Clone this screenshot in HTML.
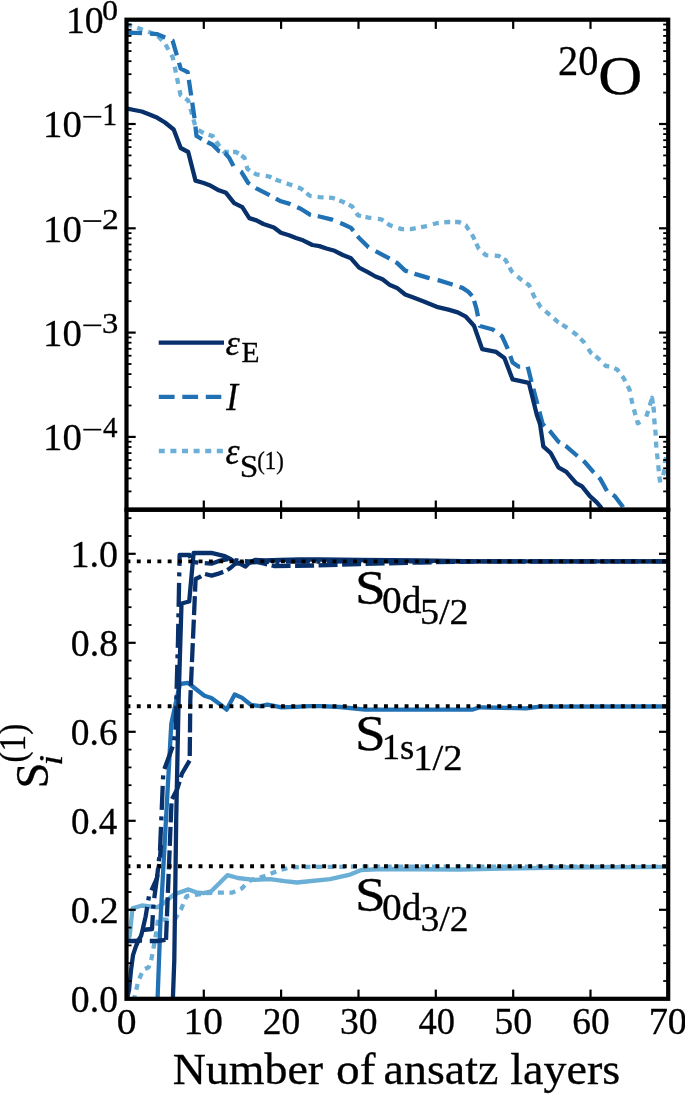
<!DOCTYPE html><html><head><meta charset="utf-8"><style>html,body{margin:0;padding:0;background:#fff;}svg{display:block;filter:blur(0.35px);}text{font-family:"Liberation Serif",serif;fill:#000;stroke:#000;stroke-width:0.3px;}</style></head><body>
<svg width="685" height="1096" viewBox="0 0 685 1096">
<rect width="685" height="1096" fill="#fff"/>
<defs><clipPath id="ct"><rect x="126.5" y="19.7" width="541.7" height="490.0"/></clipPath><clipPath id="cb"><rect x="126.5" y="509.7" width="541.7" height="489.09999999999997"/></clipPath></defs>
<g clip-path="url(#ct)">
<polyline points="126.3,24.3 134.0,26.5 141.8,29.5 149.5,32.3 157.3,35.5 165.0,43.5 172.8,57.5 180.5,95.0 188.2,100.5 196.0,128.5 203.7,133.2 212.7,136.1 218.8,145.3 224.0,152.0 236.2,152.0 244.4,157.6 247.4,168.8 250.0,170.9 256.4,174.4 269.2,176.5 277.4,180.3 289.0,184.2 300.7,188.4 310.0,195.9 319.4,197.1 332.3,197.8 342.8,201.8 352.1,206.4 358.0,215.3 368.5,217.6 381.3,219.3 389.5,225.1 401.7,229.1 411.0,229.1 423.9,226.7 436.7,223.2 448.4,222.0 458.9,222.0 465.9,225.5 472.9,236.1 478.8,248.9 485.8,255.2 498.6,255.9 505.6,260.1 511.5,271.1 520.8,279.3 529.0,285.1 533.7,295.6 540.7,307.3 548.8,314.0 558.1,322.2 567.5,328.0 576.8,335.0 583.8,342.0 590.8,352.6 597.9,358.1 605.8,366.0 610.3,366.5 617.1,369.4 623.9,378.5 629.5,389.5 631.9,401.3 634.8,412.6 637.8,423.3 645.5,419.1 649.1,407.9 652.0,397.8 653.8,409.7 654.4,421.5 655.6,433.4 656.2,445.2 657.4,457.1 658.5,467.8 659.7,479.6 660.9,484.4 663.9,472.5 665.1,460.7 668.3,450.0" fill="none" stroke="#6baed6" stroke-width="4.3" stroke-linejoin="round" stroke-linecap="butt" stroke-dasharray="6.00 5.48 6.00 5.60 6.00 4.75 6.00 5.33 6.00 5.76 6.00 6.63 6.00 5.46 6.00 6.51 6.00 4.98 6.00 5.90 6.00 5.05 6.00 6.37 6.00 5.25 6.00 4.73 6.00 5.98 6.00 4.23 6.00 3.42 6.00 6.19 6.00 4.86 6.00 6.22 6.00 4.61 6.00 5.71 6.00 5.96 6.00 4.54 6.00 6.05 6.00 5.44 6.00 4.75 6.00 4.49 6.00 5.52 6.00 4.47 6.00 6.57 6.00 4.75 6.00 6.02 6.00 5.66 6.00 5.47 6.00 6.21 6.00 5.50 6.00 4.88 6.00 5.04 6.00 5.15 6.00 4.42 6.00 5.75 6.00 6.39 6.00 3.93 6.00 4.55 6.00 6.01 6.00 5.12 6.00 5.72 6.00 5.01 6.00 5.88 6.00 5.36 6.00 4.33 6.00 6.53 6.00 4.60 6.00 6.75 6.00 4.52 6.00 5.70 6.00 5.40 6.00 5.37 6.00 5.47 6.00 6.38 6.00 5.82 6.00 5.27 6.00 8.60 6.00 5.58 6.00 2.07 6.00 2.88 6.00 5.85 6.00 5.32 6.00 5.99 6.00 5.78 6.00 5.90 6.00 5.43 6.00 11.36 6.00 6.37 6.00 5.60 6.00 5.60 6.00 5.60"/>
<polyline points="126.3,32.5 134.0,32.8 143.4,33.2 157.4,34.2 164.4,37.2 172.6,40.7 180.7,68.7 187.7,72.2 194.5,118.0 196.5,136.0 207.6,142.3 212.7,144.8 218.8,151.0 225.0,153.0 229.0,157.6 234.2,167.3 241.3,171.9 248.2,183.0 256.4,188.4 268.0,194.3 280.9,201.3 289.0,203.6 300.7,208.8 310.0,214.6 319.4,216.5 331.1,219.3 342.8,224.0 351.0,227.9 359.1,238.0 368.5,247.3 380.2,253.6 388.3,257.8 397.0,262.9 405.2,270.6 415.7,274.1 427.4,277.6 439.0,280.4 450.7,284.0 462.4,287.9 468.3,291.7 472.9,296.8 476.4,308.5 479.9,326.0 492.8,329.5 502.0,336.2 507.9,349.1 512.6,362.6 518.4,366.6 527.7,366.6 531.2,380.6 537.1,402.8 542.6,423.9 550.5,431.8 558.4,441.7 566.3,446.3 576.8,455.5 584.7,462.0 592.6,471.2 600.4,479.1 607.0,491.0 614.9,496.2 622.8,506.7 625.0,512.0" fill="none" stroke="#2171b5" stroke-width="4.3" stroke-linejoin="round" stroke-linecap="butt" stroke-dasharray="15.80 8.04 15.80 7.57 15.80 7.62 15.80 5.99 15.80 7.18 15.80 8.31 15.80 6.24 15.80 5.10 15.80 9.23 15.80 7.04 15.80 7.01 15.80 7.35 15.80 6.86 15.80 7.72 15.80 6.55 15.80 7.98 15.80 6.94 15.80 6.94 15.80 8.16 15.80 7.12 15.80 5.53 15.80 9.52 15.80 7.46 15.80 7.60 15.80 7.66 15.80 6.87 15.80 7.88 15.80 6.60 15.80 6.54 15.80 7.52 15.80 7.00 15.80 7.14 15.80 7.70 15.80 7.70"/>
<polyline points="126.3,108.4 134.0,110.0 141.8,111.5 149.5,114.5 157.4,117.8 165.0,122.5 173.7,129.5 180.7,148.0 188.2,152.0 195.5,180.6 203.7,183.0 209.6,185.2 218.8,190.3 226.0,192.8 234.2,203.1 242.3,207.2 249.3,218.1 256.4,220.4 263.4,224.0 273.9,227.5 280.9,232.8 289.0,235.2 296.0,238.0 303.0,240.3 312.4,245.0 319.4,246.1 326.4,248.5 334.6,250.8 342.8,255.0 351.0,258.3 359.1,267.6 367.3,271.8 375.5,276.5 382.5,279.3 390.0,285.1 397.0,287.9 405.2,294.5 413.4,297.5 425.0,301.9 436.7,306.8 448.4,309.6 457.7,312.4 465.9,316.7 474.0,325.7 482.2,349.1 496.2,351.9 504.4,357.9 512.6,379.4 528.9,382.9 536.8,414.7 540.0,424.0 543.3,446.3 550.5,452.8 558.4,467.3 566.3,471.9 576.1,483.1 582.0,486.4 589.9,496.2 596.5,502.1 600.4,506.7 603.5,512.0" fill="none" stroke="#08306b" stroke-width="4.3" stroke-linejoin="round" stroke-linecap="square"/>
</g>
<g clip-path="url(#cb)">
<polyline points="133.5,1001.0 138.2,981.5 143.0,970.0 148.7,967.2 151.5,958.7 154.4,943.5 156.3,932.1 158.2,918.8 167.7,919.8 175.2,918.8 181.0,909.3 186.6,896.1 194.2,895.1 205.6,893.2 218.9,892.6 232.2,892.6 241.7,888.5 249.3,880.9 254.0,879.0 264.1,876.3 278.7,870.4 290.4,867.5 305.0,867.0 355.0,866.7 668.3,866.8" fill="none" stroke="#6baed6" stroke-width="4.3" stroke-linejoin="round" stroke-linecap="butt" stroke-dasharray="6.0 5.6"/>
<polyline points="126.3,942.0 129.7,935.9 132.5,908.4 142.0,905.5 157.2,907.4 162.0,904.6 174.3,894.2 188.5,889.4 196.1,892.3 203.7,893.2 211.3,891.3 227.4,875.2 237.9,878.0 254.0,879.9 270.0,879.2 284.6,881.2 297.0,882.5 330.0,879.2 349.0,874.9 360.7,870.2 381.8,869.0 460.0,869.5 560.0,867.5 668.3,866.8" fill="none" stroke="#6baed6" stroke-width="4.3" stroke-linejoin="round" stroke-linecap="square"/>
<polyline points="157.5,1001.0 160.5,920.0 165.4,830.0 171.3,723.7 179.9,684.0 188.0,682.8 193.9,687.5 204.4,695.7 211.4,698.0 219.6,703.9 226.6,709.7 234.7,694.5 241.8,697.6 251.1,705.0 260.4,706.2 267.5,704.6 281.5,707.4 295.5,706.9 309.5,706.2 320.0,706.2 340.0,707.0 365.0,709.7 472.0,709.7 480.0,707.3 526.0,708.3 540.0,706.6 668.3,706.5" fill="none" stroke="#2171b5" stroke-width="4.3" stroke-linejoin="round" stroke-linecap="square"/>
<polyline points="142.0,930.0 152.0,929.0 153.6,903.0 157.5,874.0 159.8,860.0 161.0,845.0" fill="none" stroke="#08306b" stroke-width="4.3" stroke-linejoin="round" stroke-linecap="butt" stroke-dasharray="24 6.5 4 6.5"/>
<polyline points="142.5,930.3 145.6,916.6 149.0,896.0 157.0,878.0 160.0,850.0 163.3,772.0 173.6,744.0 175.5,729.6 178.0,640.0 179.6,555.0 189.5,555.0 192.0,562.0 200.0,562.8 211.4,563.7 219.0,560.9 228.5,559.0 240.0,561.0 260.0,562.0 300.0,561.5 480.0,561.4 668.3,561.4" fill="none" stroke="#08306b" stroke-width="4.3" stroke-linejoin="round" stroke-linecap="butt" stroke-dasharray="24 6.5 4 6.5"/>
<polyline points="126.3,941.0 134.0,941.0 141.8,940.5 149.5,941.0 157.3,941.0 166.0,939.8" fill="none" stroke="#08306b" stroke-width="4.3" stroke-linejoin="round" stroke-linecap="butt" stroke-dasharray="15.8 7.7"/>
<polyline points="166.0,939.8 168.4,880.0 171.6,800.0 177.3,789.0 182.0,773.5 189.7,760.4 190.3,700.0 195.6,579.0 200.0,576.8 204.7,573.9 211.7,575.6 217.6,573.9 225.7,571.0 230.4,568.0 235.0,564.0 239.7,562.8 245.0,562.8 257.0,562.0 274.0,566.0 313.9,565.5 360.0,564.0 420.0,562.5 480.0,561.4 668.3,561.4" fill="none" stroke="#08306b" stroke-width="4.3" stroke-linejoin="round" stroke-linecap="butt" stroke-dasharray="19 4.5"/>
<polyline points="172.8,1001.0 174.3,960.0 176.2,820.0 178.6,700.0 181.5,603.5 189.2,601.5 193.6,553.0 211.4,552.9 224.7,556.1 230.4,559.0 234.2,561.8 239.9,563.7 245.5,566.6 249.3,562.8 255.0,560.0 265.0,560.5 280.0,560.0 300.0,559.5 320.0,559.5 360.0,560.0 420.0,560.5 480.0,561.4 668.3,561.4" fill="none" stroke="#08306b" stroke-width="4.3" stroke-linejoin="round" stroke-linecap="square"/>
<polyline points="126.0,1003.0 129.0,990.3 131.0,970.2 133.0,955.2 136.0,946.1 139.0,939.1 141.0,936.1 142.5,930.3" fill="none" stroke="#08306b" stroke-width="4.3" stroke-linejoin="round" stroke-linecap="butt"/>
<line x1="126.5" y1="561.4" x2="668.2" y2="561.4" stroke="#000" stroke-width="3.9" stroke-dasharray="3.9 6.4"/>
<line x1="126.5" y1="706.2" x2="668.2" y2="706.2" stroke="#000" stroke-width="3.9" stroke-dasharray="3.9 6.4"/>
<line x1="126.5" y1="866.3" x2="668.2" y2="866.3" stroke="#000" stroke-width="3.9" stroke-dasharray="3.9 6.4"/>
</g>
<line x1="203.8" y1="19.7" x2="203.8" y2="28.9" stroke="#000" stroke-width="2.2"/><line x1="203.8" y1="509.7" x2="203.8" y2="500.5" stroke="#000" stroke-width="2.2"/><line x1="203.8" y1="509.7" x2="203.8" y2="518.9" stroke="#000" stroke-width="2.2"/><line x1="203.8" y1="998.8" x2="203.8" y2="989.5999999999999" stroke="#000" stroke-width="2.2"/><line x1="281.1" y1="19.7" x2="281.1" y2="28.9" stroke="#000" stroke-width="2.2"/><line x1="281.1" y1="509.7" x2="281.1" y2="500.5" stroke="#000" stroke-width="2.2"/><line x1="281.1" y1="509.7" x2="281.1" y2="518.9" stroke="#000" stroke-width="2.2"/><line x1="281.1" y1="998.8" x2="281.1" y2="989.5999999999999" stroke="#000" stroke-width="2.2"/><line x1="358.5" y1="19.7" x2="358.5" y2="28.9" stroke="#000" stroke-width="2.2"/><line x1="358.5" y1="509.7" x2="358.5" y2="500.5" stroke="#000" stroke-width="2.2"/><line x1="358.5" y1="509.7" x2="358.5" y2="518.9" stroke="#000" stroke-width="2.2"/><line x1="358.5" y1="998.8" x2="358.5" y2="989.5999999999999" stroke="#000" stroke-width="2.2"/><line x1="435.8" y1="19.7" x2="435.8" y2="28.9" stroke="#000" stroke-width="2.2"/><line x1="435.8" y1="509.7" x2="435.8" y2="500.5" stroke="#000" stroke-width="2.2"/><line x1="435.8" y1="509.7" x2="435.8" y2="518.9" stroke="#000" stroke-width="2.2"/><line x1="435.8" y1="998.8" x2="435.8" y2="989.5999999999999" stroke="#000" stroke-width="2.2"/><line x1="513.2" y1="19.7" x2="513.2" y2="28.9" stroke="#000" stroke-width="2.2"/><line x1="513.2" y1="509.7" x2="513.2" y2="500.5" stroke="#000" stroke-width="2.2"/><line x1="513.2" y1="509.7" x2="513.2" y2="518.9" stroke="#000" stroke-width="2.2"/><line x1="513.2" y1="998.8" x2="513.2" y2="989.5999999999999" stroke="#000" stroke-width="2.2"/><line x1="590.5" y1="19.7" x2="590.5" y2="28.9" stroke="#000" stroke-width="2.2"/><line x1="590.5" y1="509.7" x2="590.5" y2="500.5" stroke="#000" stroke-width="2.2"/><line x1="590.5" y1="509.7" x2="590.5" y2="518.9" stroke="#000" stroke-width="2.2"/><line x1="590.5" y1="998.8" x2="590.5" y2="989.5999999999999" stroke="#000" stroke-width="2.2"/><line x1="126.5" y1="19.7" x2="135.7" y2="19.7" stroke="#000" stroke-width="2.2"/><line x1="668.2" y1="19.7" x2="659.0" y2="19.7" stroke="#000" stroke-width="2.2"/><line x1="126.5" y1="124.0" x2="135.7" y2="124.0" stroke="#000" stroke-width="2.2"/><line x1="668.2" y1="124.0" x2="659.0" y2="124.0" stroke="#000" stroke-width="2.2"/><line x1="126.5" y1="228.3" x2="135.7" y2="228.3" stroke="#000" stroke-width="2.2"/><line x1="668.2" y1="228.3" x2="659.0" y2="228.3" stroke="#000" stroke-width="2.2"/><line x1="126.5" y1="332.6" x2="135.7" y2="332.6" stroke="#000" stroke-width="2.2"/><line x1="668.2" y1="332.6" x2="659.0" y2="332.6" stroke="#000" stroke-width="2.2"/><line x1="126.5" y1="436.9" x2="135.7" y2="436.9" stroke="#000" stroke-width="2.2"/><line x1="668.2" y1="436.9" x2="659.0" y2="436.9" stroke="#000" stroke-width="2.2"/><line x1="126.5" y1="92.6" x2="131.5" y2="92.6" stroke="#000" stroke-width="1.8"/><line x1="668.2" y1="92.6" x2="663.2" y2="92.6" stroke="#000" stroke-width="1.8"/><line x1="126.5" y1="74.2" x2="131.5" y2="74.2" stroke="#000" stroke-width="1.8"/><line x1="668.2" y1="74.2" x2="663.2" y2="74.2" stroke="#000" stroke-width="1.8"/><line x1="126.5" y1="61.2" x2="131.5" y2="61.2" stroke="#000" stroke-width="1.8"/><line x1="668.2" y1="61.2" x2="663.2" y2="61.2" stroke="#000" stroke-width="1.8"/><line x1="126.5" y1="51.1" x2="131.5" y2="51.1" stroke="#000" stroke-width="1.8"/><line x1="668.2" y1="51.1" x2="663.2" y2="51.1" stroke="#000" stroke-width="1.8"/><line x1="126.5" y1="42.8" x2="131.5" y2="42.8" stroke="#000" stroke-width="1.8"/><line x1="668.2" y1="42.8" x2="663.2" y2="42.8" stroke="#000" stroke-width="1.8"/><line x1="126.5" y1="35.9" x2="131.5" y2="35.9" stroke="#000" stroke-width="1.8"/><line x1="668.2" y1="35.9" x2="663.2" y2="35.9" stroke="#000" stroke-width="1.8"/><line x1="126.5" y1="29.8" x2="131.5" y2="29.8" stroke="#000" stroke-width="1.8"/><line x1="668.2" y1="29.8" x2="663.2" y2="29.8" stroke="#000" stroke-width="1.8"/><line x1="126.5" y1="24.5" x2="131.5" y2="24.5" stroke="#000" stroke-width="1.8"/><line x1="668.2" y1="24.5" x2="663.2" y2="24.5" stroke="#000" stroke-width="1.8"/><line x1="126.5" y1="196.9" x2="131.5" y2="196.9" stroke="#000" stroke-width="1.8"/><line x1="668.2" y1="196.9" x2="663.2" y2="196.9" stroke="#000" stroke-width="1.8"/><line x1="126.5" y1="178.5" x2="131.5" y2="178.5" stroke="#000" stroke-width="1.8"/><line x1="668.2" y1="178.5" x2="663.2" y2="178.5" stroke="#000" stroke-width="1.8"/><line x1="126.5" y1="165.5" x2="131.5" y2="165.5" stroke="#000" stroke-width="1.8"/><line x1="668.2" y1="165.5" x2="663.2" y2="165.5" stroke="#000" stroke-width="1.8"/><line x1="126.5" y1="155.4" x2="131.5" y2="155.4" stroke="#000" stroke-width="1.8"/><line x1="668.2" y1="155.4" x2="663.2" y2="155.4" stroke="#000" stroke-width="1.8"/><line x1="126.5" y1="147.1" x2="131.5" y2="147.1" stroke="#000" stroke-width="1.8"/><line x1="668.2" y1="147.1" x2="663.2" y2="147.1" stroke="#000" stroke-width="1.8"/><line x1="126.5" y1="140.2" x2="131.5" y2="140.2" stroke="#000" stroke-width="1.8"/><line x1="668.2" y1="140.2" x2="663.2" y2="140.2" stroke="#000" stroke-width="1.8"/><line x1="126.5" y1="134.1" x2="131.5" y2="134.1" stroke="#000" stroke-width="1.8"/><line x1="668.2" y1="134.1" x2="663.2" y2="134.1" stroke="#000" stroke-width="1.8"/><line x1="126.5" y1="128.8" x2="131.5" y2="128.8" stroke="#000" stroke-width="1.8"/><line x1="668.2" y1="128.8" x2="663.2" y2="128.8" stroke="#000" stroke-width="1.8"/><line x1="126.5" y1="301.2" x2="131.5" y2="301.2" stroke="#000" stroke-width="1.8"/><line x1="668.2" y1="301.2" x2="663.2" y2="301.2" stroke="#000" stroke-width="1.8"/><line x1="126.5" y1="282.8" x2="131.5" y2="282.8" stroke="#000" stroke-width="1.8"/><line x1="668.2" y1="282.8" x2="663.2" y2="282.8" stroke="#000" stroke-width="1.8"/><line x1="126.5" y1="269.8" x2="131.5" y2="269.8" stroke="#000" stroke-width="1.8"/><line x1="668.2" y1="269.8" x2="663.2" y2="269.8" stroke="#000" stroke-width="1.8"/><line x1="126.5" y1="259.7" x2="131.5" y2="259.7" stroke="#000" stroke-width="1.8"/><line x1="668.2" y1="259.7" x2="663.2" y2="259.7" stroke="#000" stroke-width="1.8"/><line x1="126.5" y1="251.4" x2="131.5" y2="251.4" stroke="#000" stroke-width="1.8"/><line x1="668.2" y1="251.4" x2="663.2" y2="251.4" stroke="#000" stroke-width="1.8"/><line x1="126.5" y1="244.5" x2="131.5" y2="244.5" stroke="#000" stroke-width="1.8"/><line x1="668.2" y1="244.5" x2="663.2" y2="244.5" stroke="#000" stroke-width="1.8"/><line x1="126.5" y1="238.4" x2="131.5" y2="238.4" stroke="#000" stroke-width="1.8"/><line x1="668.2" y1="238.4" x2="663.2" y2="238.4" stroke="#000" stroke-width="1.8"/><line x1="126.5" y1="233.1" x2="131.5" y2="233.1" stroke="#000" stroke-width="1.8"/><line x1="668.2" y1="233.1" x2="663.2" y2="233.1" stroke="#000" stroke-width="1.8"/><line x1="126.5" y1="405.5" x2="131.5" y2="405.5" stroke="#000" stroke-width="1.8"/><line x1="668.2" y1="405.5" x2="663.2" y2="405.5" stroke="#000" stroke-width="1.8"/><line x1="126.5" y1="387.1" x2="131.5" y2="387.1" stroke="#000" stroke-width="1.8"/><line x1="668.2" y1="387.1" x2="663.2" y2="387.1" stroke="#000" stroke-width="1.8"/><line x1="126.5" y1="374.1" x2="131.5" y2="374.1" stroke="#000" stroke-width="1.8"/><line x1="668.2" y1="374.1" x2="663.2" y2="374.1" stroke="#000" stroke-width="1.8"/><line x1="126.5" y1="364.0" x2="131.5" y2="364.0" stroke="#000" stroke-width="1.8"/><line x1="668.2" y1="364.0" x2="663.2" y2="364.0" stroke="#000" stroke-width="1.8"/><line x1="126.5" y1="355.7" x2="131.5" y2="355.7" stroke="#000" stroke-width="1.8"/><line x1="668.2" y1="355.7" x2="663.2" y2="355.7" stroke="#000" stroke-width="1.8"/><line x1="126.5" y1="348.8" x2="131.5" y2="348.8" stroke="#000" stroke-width="1.8"/><line x1="668.2" y1="348.8" x2="663.2" y2="348.8" stroke="#000" stroke-width="1.8"/><line x1="126.5" y1="342.7" x2="131.5" y2="342.7" stroke="#000" stroke-width="1.8"/><line x1="668.2" y1="342.7" x2="663.2" y2="342.7" stroke="#000" stroke-width="1.8"/><line x1="126.5" y1="337.4" x2="131.5" y2="337.4" stroke="#000" stroke-width="1.8"/><line x1="668.2" y1="337.4" x2="663.2" y2="337.4" stroke="#000" stroke-width="1.8"/><line x1="126.5" y1="491.4" x2="131.5" y2="491.4" stroke="#000" stroke-width="1.8"/><line x1="668.2" y1="491.4" x2="663.2" y2="491.4" stroke="#000" stroke-width="1.8"/><line x1="126.5" y1="478.4" x2="131.5" y2="478.4" stroke="#000" stroke-width="1.8"/><line x1="668.2" y1="478.4" x2="663.2" y2="478.4" stroke="#000" stroke-width="1.8"/><line x1="126.5" y1="468.3" x2="131.5" y2="468.3" stroke="#000" stroke-width="1.8"/><line x1="668.2" y1="468.3" x2="663.2" y2="468.3" stroke="#000" stroke-width="1.8"/><line x1="126.5" y1="460.0" x2="131.5" y2="460.0" stroke="#000" stroke-width="1.8"/><line x1="668.2" y1="460.0" x2="663.2" y2="460.0" stroke="#000" stroke-width="1.8"/><line x1="126.5" y1="453.1" x2="131.5" y2="453.1" stroke="#000" stroke-width="1.8"/><line x1="668.2" y1="453.1" x2="663.2" y2="453.1" stroke="#000" stroke-width="1.8"/><line x1="126.5" y1="447.0" x2="131.5" y2="447.0" stroke="#000" stroke-width="1.8"/><line x1="668.2" y1="447.0" x2="663.2" y2="447.0" stroke="#000" stroke-width="1.8"/><line x1="126.5" y1="441.7" x2="131.5" y2="441.7" stroke="#000" stroke-width="1.8"/><line x1="668.2" y1="441.7" x2="663.2" y2="441.7" stroke="#000" stroke-width="1.8"/><line x1="126.5" y1="981.0" x2="131.5" y2="981.0" stroke="#000" stroke-width="1.8"/><line x1="668.2" y1="981.0" x2="663.2" y2="981.0" stroke="#000" stroke-width="1.8"/><line x1="126.5" y1="963.2" x2="131.5" y2="963.2" stroke="#000" stroke-width="1.8"/><line x1="668.2" y1="963.2" x2="663.2" y2="963.2" stroke="#000" stroke-width="1.8"/><line x1="126.5" y1="945.4" x2="131.5" y2="945.4" stroke="#000" stroke-width="1.8"/><line x1="668.2" y1="945.4" x2="663.2" y2="945.4" stroke="#000" stroke-width="1.8"/><line x1="126.5" y1="927.6" x2="131.5" y2="927.6" stroke="#000" stroke-width="1.8"/><line x1="668.2" y1="927.6" x2="663.2" y2="927.6" stroke="#000" stroke-width="1.8"/><line x1="126.5" y1="909.8" x2="135.7" y2="909.8" stroke="#000" stroke-width="2.2"/><line x1="668.2" y1="909.8" x2="659.0" y2="909.8" stroke="#000" stroke-width="2.2"/><line x1="126.5" y1="892.0" x2="131.5" y2="892.0" stroke="#000" stroke-width="1.8"/><line x1="668.2" y1="892.0" x2="663.2" y2="892.0" stroke="#000" stroke-width="1.8"/><line x1="126.5" y1="874.2" x2="131.5" y2="874.2" stroke="#000" stroke-width="1.8"/><line x1="668.2" y1="874.2" x2="663.2" y2="874.2" stroke="#000" stroke-width="1.8"/><line x1="126.5" y1="856.4" x2="131.5" y2="856.4" stroke="#000" stroke-width="1.8"/><line x1="668.2" y1="856.4" x2="663.2" y2="856.4" stroke="#000" stroke-width="1.8"/><line x1="126.5" y1="838.6" x2="131.5" y2="838.6" stroke="#000" stroke-width="1.8"/><line x1="668.2" y1="838.6" x2="663.2" y2="838.6" stroke="#000" stroke-width="1.8"/><line x1="126.5" y1="820.8" x2="135.7" y2="820.8" stroke="#000" stroke-width="2.2"/><line x1="668.2" y1="820.8" x2="659.0" y2="820.8" stroke="#000" stroke-width="2.2"/><line x1="126.5" y1="803.0" x2="131.5" y2="803.0" stroke="#000" stroke-width="1.8"/><line x1="668.2" y1="803.0" x2="663.2" y2="803.0" stroke="#000" stroke-width="1.8"/><line x1="126.5" y1="785.2" x2="131.5" y2="785.2" stroke="#000" stroke-width="1.8"/><line x1="668.2" y1="785.2" x2="663.2" y2="785.2" stroke="#000" stroke-width="1.8"/><line x1="126.5" y1="767.4" x2="131.5" y2="767.4" stroke="#000" stroke-width="1.8"/><line x1="668.2" y1="767.4" x2="663.2" y2="767.4" stroke="#000" stroke-width="1.8"/><line x1="126.5" y1="749.6" x2="131.5" y2="749.6" stroke="#000" stroke-width="1.8"/><line x1="668.2" y1="749.6" x2="663.2" y2="749.6" stroke="#000" stroke-width="1.8"/><line x1="126.5" y1="731.8" x2="135.7" y2="731.8" stroke="#000" stroke-width="2.2"/><line x1="668.2" y1="731.8" x2="659.0" y2="731.8" stroke="#000" stroke-width="2.2"/><line x1="126.5" y1="714.0" x2="131.5" y2="714.0" stroke="#000" stroke-width="1.8"/><line x1="668.2" y1="714.0" x2="663.2" y2="714.0" stroke="#000" stroke-width="1.8"/><line x1="126.5" y1="696.2" x2="131.5" y2="696.2" stroke="#000" stroke-width="1.8"/><line x1="668.2" y1="696.2" x2="663.2" y2="696.2" stroke="#000" stroke-width="1.8"/><line x1="126.5" y1="678.4" x2="131.5" y2="678.4" stroke="#000" stroke-width="1.8"/><line x1="668.2" y1="678.4" x2="663.2" y2="678.4" stroke="#000" stroke-width="1.8"/><line x1="126.5" y1="660.6" x2="131.5" y2="660.6" stroke="#000" stroke-width="1.8"/><line x1="668.2" y1="660.6" x2="663.2" y2="660.6" stroke="#000" stroke-width="1.8"/><line x1="126.5" y1="642.8" x2="135.7" y2="642.8" stroke="#000" stroke-width="2.2"/><line x1="668.2" y1="642.8" x2="659.0" y2="642.8" stroke="#000" stroke-width="2.2"/><line x1="126.5" y1="625.0" x2="131.5" y2="625.0" stroke="#000" stroke-width="1.8"/><line x1="668.2" y1="625.0" x2="663.2" y2="625.0" stroke="#000" stroke-width="1.8"/><line x1="126.5" y1="607.2" x2="131.5" y2="607.2" stroke="#000" stroke-width="1.8"/><line x1="668.2" y1="607.2" x2="663.2" y2="607.2" stroke="#000" stroke-width="1.8"/><line x1="126.5" y1="589.4" x2="131.5" y2="589.4" stroke="#000" stroke-width="1.8"/><line x1="668.2" y1="589.4" x2="663.2" y2="589.4" stroke="#000" stroke-width="1.8"/><line x1="126.5" y1="571.6" x2="131.5" y2="571.6" stroke="#000" stroke-width="1.8"/><line x1="668.2" y1="571.6" x2="663.2" y2="571.6" stroke="#000" stroke-width="1.8"/><line x1="126.5" y1="553.8" x2="135.7" y2="553.8" stroke="#000" stroke-width="2.2"/><line x1="668.2" y1="553.8" x2="659.0" y2="553.8" stroke="#000" stroke-width="2.2"/><line x1="126.5" y1="536.0" x2="131.5" y2="536.0" stroke="#000" stroke-width="1.8"/><line x1="668.2" y1="536.0" x2="663.2" y2="536.0" stroke="#000" stroke-width="1.8"/><line x1="126.5" y1="518.2" x2="131.5" y2="518.2" stroke="#000" stroke-width="1.8"/><line x1="668.2" y1="518.2" x2="663.2" y2="518.2" stroke="#000" stroke-width="1.8"/>
<rect x="126.5" y="19.7" width="541.7" height="490.0" fill="none" stroke="#000" stroke-width="4.2"/>
<rect x="126.5" y="509.7" width="541.7" height="489.09999999999997" fill="none" stroke="#000" stroke-width="4.2"/>
<text transform="translate(65.98,32.93) scale(0.9837,1.0000)" font-size="38.38">10</text>
<text transform="translate(101.88,19.82) scale(1.1048,1.0000)" font-size="29.05">0</text>
<text transform="translate(42.99,137.23) scale(1.0105,1.0000)" font-size="38.38">10</text>
<rect x="83.3" y="115.90" width="18" height="1.7" fill="#000"/>
<text transform="translate(102.28,124.50) scale(0.9747,1.0000)" font-size="30.60">1</text>
<text transform="translate(42.99,241.53) scale(1.0105,1.0000)" font-size="38.38">10</text>
<rect x="83.3" y="220.20" width="18" height="1.7" fill="#000"/>
<text transform="translate(102.12,228.60) scale(1.1493,1.0000)" font-size="29.30">2</text>
<text transform="translate(42.99,345.83) scale(1.0105,1.0000)" font-size="38.38">10</text>
<rect x="83.3" y="324.50" width="18" height="1.7" fill="#000"/>
<text transform="translate(102.04,332.62) scale(1.1318,1.0000)" font-size="28.87">3</text>
<text transform="translate(42.99,450.13) scale(1.0105,1.0000)" font-size="38.38">10</text>
<rect x="83.3" y="428.80" width="18" height="1.7" fill="#000"/>
<text transform="translate(103.03,437.20) scale(0.9853,1.0000)" font-size="29.47">4</text>
<text transform="translate(70.86,1012.45) scale(0.9709,1.0000)" font-size="38.87">0.0</text>
<text transform="translate(70.84,923.45) scale(0.9853,1.0000)" font-size="38.87">0.2</text>
<text transform="translate(70.89,834.45) scale(0.9527,1.0000)" font-size="38.87">0.4</text>
<text transform="translate(70.87,745.45) scale(0.9641,1.0000)" font-size="38.87">0.6</text>
<text transform="translate(70.86,656.45) scale(0.9709,1.0000)" font-size="38.87">0.8</text>
<text transform="translate(70.45,567.45) scale(0.9796,1.0000)" font-size="38.87">1.0</text>
<text transform="translate(116.69,1034.24) scale(1.0786,1.0000)" font-size="36.75">0</text>
<text transform="translate(183.60,1034.34) scale(1.0624,1.0000)" font-size="37.05">10</text>
<text transform="translate(262.77,1034.34) scale(1.0115,1.0000)" font-size="37.05">20</text>
<text transform="translate(339.97,1034.34) scale(1.0158,1.0000)" font-size="37.05">30</text>
<text transform="translate(418.42,1034.34) scale(0.9853,1.0000)" font-size="37.05">40</text>
<text transform="translate(494.27,1034.34) scale(1.0274,1.0000)" font-size="37.05">50</text>
<text transform="translate(572.23,1034.34) scale(1.0104,1.0000)" font-size="37.05">60</text>
<text transform="translate(648.67,1034.34) scale(1.0363,1.0000)" font-size="37.05">70</text>
<text transform="translate(172.68,1084.40) scale(1.0163,1)" font-size="45.20">Number</text>
<text transform="translate(336.10,1084.40) scale(1.0465,1)" font-size="45.20">of</text>
<text transform="translate(383.58,1084.40) scale(1.0165,1)" font-size="45.20">ansatz</text>
<text transform="translate(510.28,1084.40) scale(1.0191,1)" font-size="45.20">layers</text>
<g transform="rotate(-90)">
<text transform="translate(-788.62,47.56) scale(1.0227,1.0000)" font-size="45.54">S</text>
<text transform="translate(-765.70,61.80) scale(1.1401,1.0000)" font-size="34.74" font-style="italic">i</text>
<text transform="translate(-762.46,25.22) scale(0.8856,1.0000)" font-size="37.50">(1)</text>
</g>
<text transform="translate(558.12,74.89) scale(0.9740,1.0000)" font-size="41.49">20</text>
<text transform="translate(598.30,93.75) scale(1.0916,1.0000)" font-size="55.81">O</text>
<line x1="158.7" y1="342.7" x2="224.0" y2="342.7" stroke="#08306b" stroke-width="4.3"/>
<line x1="158.8" y1="396.9" x2="221.3" y2="396.9" stroke="#2171b5" stroke-width="4.3" stroke-dasharray="15.8 7.7"/>
<line x1="158.8" y1="451.0" x2="223.3" y2="451.0" stroke="#6baed6" stroke-width="4.3" stroke-dasharray="6.0 5.6"/>
<text transform="translate(225.62,355.14) scale(0.9985,1.0000)" font-size="36.39" font-style="italic">ε</text>
<text transform="translate(241.45,362.10) scale(1.0166,1.0000)" font-size="29.02">E</text>
<text transform="translate(226.24,410.30) scale(0.8708,1.0000)" font-size="40.62" font-style="italic">I</text>
<text transform="translate(225.53,463.53) scale(0.9356,1.0000)" font-size="38.26" font-style="italic">ε</text>
<text transform="translate(239.76,476.90) scale(1.0970,1.0000)" font-size="30.51">S</text>
<text transform="translate(257.30,469.08) scale(0.8768,1.0000)" font-size="25.92">(1)</text>
<text transform="translate(355.10,603.92) scale(1.1145,1.0000)" font-size="49.56">S</text><text transform="translate(382.10,612.83) scale(1.0536,1.0000)" font-size="37.38">0d</text><text transform="translate(419.99,624.24) scale(1.0390,1.0000)" font-size="36.61">5/2</text>
<text transform="translate(355.10,750.11) scale(1.1045,1.0000)" font-size="50.01">S</text>
<text transform="translate(381.77,758.66) scale(1.0425,1.0000)" font-size="35.23">1s</text>
<text transform="translate(413.21,770.06) scale(1.0989,1.0000)" font-size="35.13">1/2</text>
<text transform="translate(355.10,910.92) scale(1.1145,1.0000)" font-size="49.56">S</text><text transform="translate(382.10,919.83) scale(1.0536,1.0000)" font-size="37.38">0d</text><text transform="translate(420.40,931.24) scale(1.0299,1.0000)" font-size="36.61">3/2</text>
</svg></body></html>
